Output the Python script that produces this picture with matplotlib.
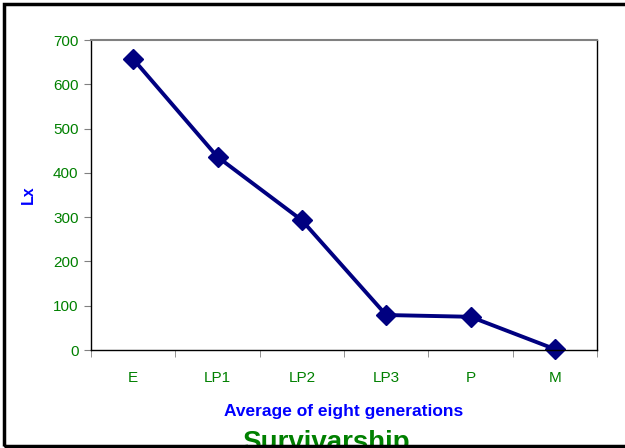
import matplotlib.pyplot as plt
from matplotlib.patches import Rectangle

plt.rcParams['font.family'] = ['Liberation Sans', 'DejaVu Sans']

stages = ['E', 'LP1', 'LP2', 'LP3', 'P', 'M']
lx = [657, 436, 293, 79, 75, 2]

fig = plt.figure(figsize=(6.25, 4.48), dpi=100)
ax = fig.add_axes([91 / 625, 1 - 350 / 448, 506 / 625, 310 / 448])

x = list(range(len(stages)))
ax.plot(x, lx, color='#000080', lw=2.8, marker='D', markersize=10.5, clip_on=False)

ax.set_xlim(-0.5, len(stages) - 0.5)
ax.set_ylim(0, 700)
ax.set_yticks(range(0, 701, 100))
ax.set_xticks(x)
ax.set_xticklabels(stages)
ax.set_xticks([i - 0.5 for i in range(len(stages) + 1)], minor=True)
ax.tick_params(axis='x', which='major', length=0, pad=15, labelcolor='#008000', labelsize=11)
ax.tick_params(axis='x', which='minor', length=5, color='#808080', direction='out')
ax.tick_params(axis='y', length=5, color='#808080', labelcolor='#008000', labelsize=11, pad=4)

for s in ['left', 'right', 'bottom']:
    ax.spines[s].set_color('black')
    ax.spines[s].set_linewidth(1)
ax.spines['top'].set_color('#808080')
ax.spines['top'].set_linewidth(1.5)

ax.set_ylabel('Lx', color='#0000FF', fontweight='bold', fontsize=11.5)
ax.yaxis.set_label_coords(-63 / 506, (350 - 195) / 310)
ax.yaxis.label.set_va('center')
ax.set_xlabel('Average of eight generations', color='#0000FF', fontweight='bold', fontsize=12.5)
ax.xaxis.set_label_coords(0.5, -(411 - 350) / 310)
ax.xaxis.label.set_va('center')

fig.text(0.522, 1 - 450 / 448, 'Survivarship', color='#008000', fontweight='bold',
         fontsize=20, ha='center', va='baseline')

fig.patches.append(Rectangle((4 / 625, 2 / 448), 1.0, 1 - 6 / 448, transform=fig.transFigure,
                             fill=False, edgecolor='black', lw=2.5, zorder=5))

fig.savefig('out.png', dpi=100)
